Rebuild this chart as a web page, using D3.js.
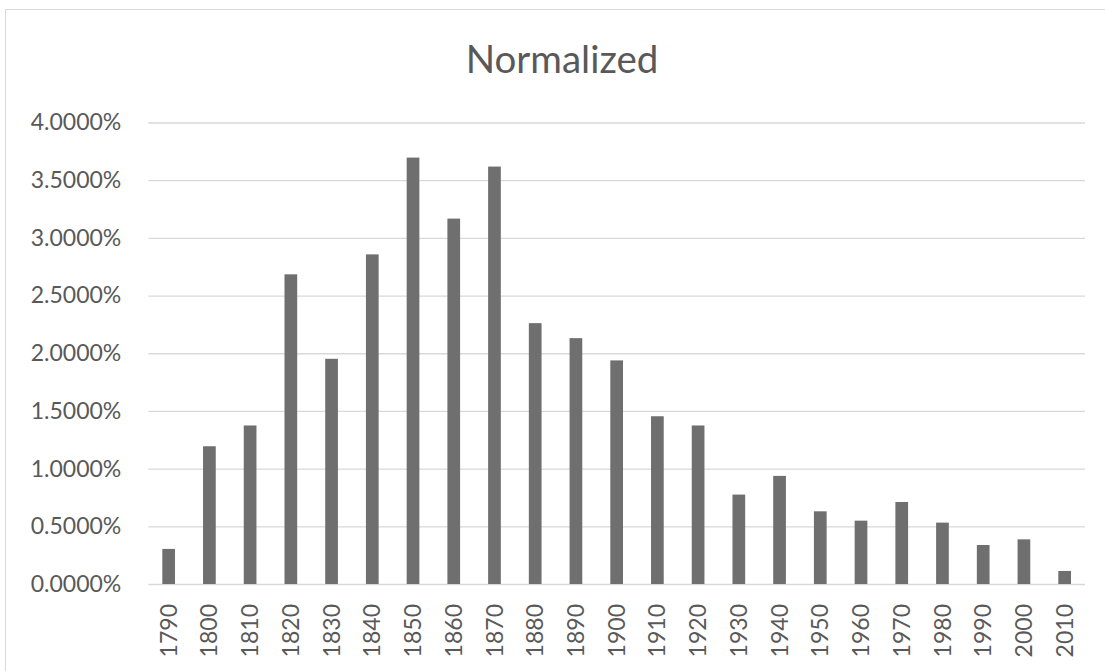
<!DOCTYPE html>
<html>
<head>
<meta charset="utf-8">
<script src="https://cdn.jsdelivr.net/npm/d3@7"></script>
<style>
  body { margin: 0; background: #fff; }
  svg { display: block; font-family: Lato, "Open Sans", sans-serif; }
</style>
</head>
<body>
<svg id="chart"></svg>
<script>
// data
var years = ["1790","1800","1810","1820","1830","1840","1850","1860","1870","1880","1890","1900",
             "1910","1920","1930","1940","1950","1960","1970","1980","1990","2000","2010"];
var shares = [0.00304, 0.01194, 0.01374, 0.02684, 0.01952, 0.02857, 0.03696, 0.03167, 0.03618, 0.02261,
              0.02131, 0.01938, 0.01454, 0.01374, 0.00775, 0.00937, 0.00630, 0.00549, 0.00711, 0.00532,
              0.00338, 0.00387, 0.00113];
var yTicks = [0, 0.005, 0.01, 0.015, 0.02, 0.025, 0.03, 0.035, 0.04];
var chartTitle = "Normalized";

var width = 1105, height = 671;
var plot = { left: 148.3, right: 1085, top: 122.5, bottom: 584 };
var textColor = "#595959";

var svg = d3.select("#chart").attr("width", width).attr("height", height);

// chart frame
svg.append("rect")
  .attr("x", 5.5).attr("y", 9.5)
  .attr("width", width + 10).attr("height", height + 10)
  .attr("fill", "#fff")
  .attr("stroke", "#d9d9d9");

var x = d3.scaleBand()
  .domain(years)
  .range([plot.left, plot.right])
  .paddingInner(0.688)
  .paddingOuter(0.344);

var y = d3.scaleLinear()
  .domain([0, 0.04])
  .range([plot.bottom, plot.top]);

// gridlines + y labels
var yAxis = d3.axisLeft(y)
  .tickValues(yTicks)
  .tickFormat(d3.format(".4%"))
  .tickSize(-(plot.right - plot.left))
  .tickPadding(27);

var gy = svg.append("g")
  .attr("transform", "translate(" + plot.left + ",0)")
  .call(yAxis);
gy.select(".domain").remove();
gy.selectAll(".tick line").attr("stroke", "#d9d9d9").attr("stroke-width", 1.3);
gy.selectAll(".tick text")
  .attr("fill", textColor)
  .style("font-size", "23px")
  .style("font-family", "Lato, 'Open Sans', sans-serif");

// bars
svg.append("g")
  .selectAll("rect")
  .data(years)
  .enter()
  .append("rect")
  .attr("x", function(d){ return x(d); })
  .attr("width", x.bandwidth())
  .attr("y", function(d, i){ return y(shares[i]); })
  .attr("height", function(d, i){ return y(0) - y(shares[i]); })
  .attr("fill", "#6f6f6f");

// x labels (rotated)
var xAxis = d3.axisBottom(x).tickSize(0);
var gx = svg.append("g")
  .attr("transform", "translate(0," + plot.bottom + ")")
  .call(xAxis);
gx.select(".domain").remove();
gx.selectAll(".tick text")
  .attr("fill", textColor)
  .style("font-size", "23px")
  .style("font-family", "Lato, 'Open Sans', sans-serif")
  .style("text-anchor", "end")
  .attr("x", 0).attr("y", 0).attr("dy", "0.35em")
  .attr("transform", "translate(0,20) rotate(-90)");

// title
svg.append("text")
  .attr("x", 562)
  .attr("y", 73)
  .attr("text-anchor", "middle")
  .attr("fill", textColor)
  .style("font-size", "38.5px")
  .text(chartTitle);
</script>
</body>
</html>
